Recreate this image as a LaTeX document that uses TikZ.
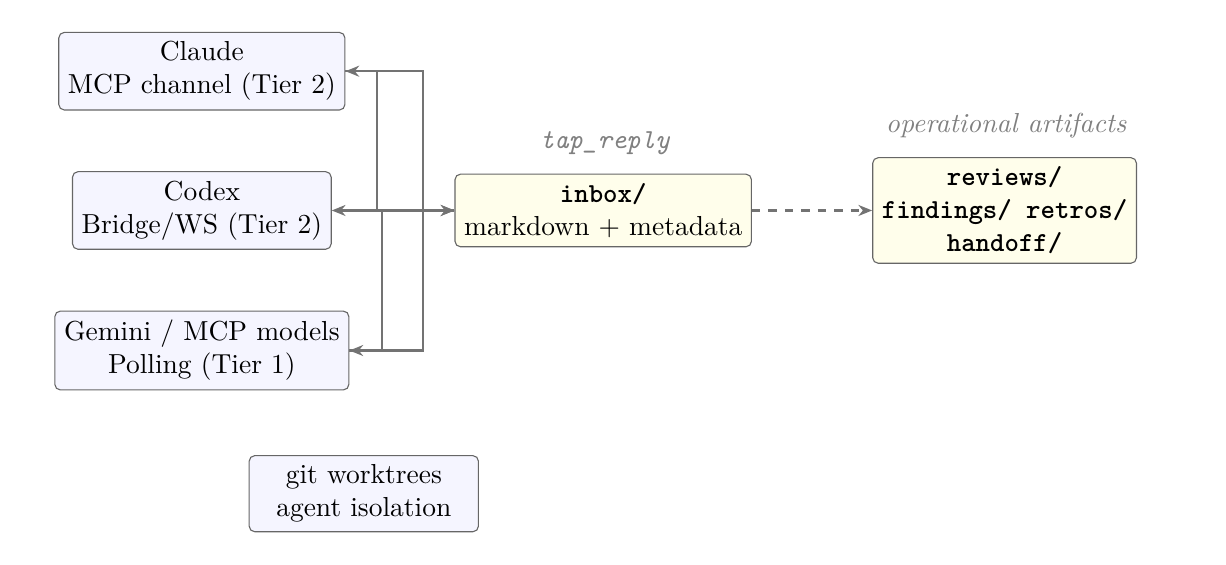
\documentclass[tikz,border=0pt]{standalone}
\usetikzlibrary{arrows.meta}
\begin{document}
\begin{tikzpicture}[
            agent/.style={draw=black!60, fill=blue!4, rounded corners=2pt, align=center},
            store/.style={draw=black!60, fill=yellow!8, rounded corners=2pt, align=center},
            link/.style={-{Stealth[length=5pt,width=4pt]}, black!55, thick},
            note/.style={black!50, font=\itshape}
        ]
            \useasboundingbox (0,0) rectangle (15.67,-7.21);
            \node[agent] (claude) at (2.58,-0.91) {Claude\\MCP channel (Tier 2)};
            \node[agent] (codex) at (2.58,-2.69) {Codex\\Bridge/WS (Tier 2)};
            \node[agent] (gemini) at (2.58,-4.48) {Gemini / MCP models\\Polling (Tier 1)};
            \node[agent, minimum width=2.93cm] (git) at (4.65,-6.31) {git worktrees\\agent isolation};
            \node[store] (inbox) at (7.71,-2.69) {\texttt{\bfseries inbox/}\\markdown + metadata};
            \node[store] (arts) at (12.84,-2.69) {\texttt{\bfseries reviews/}\\\texttt{\bfseries findings/ retros/}\\\texttt{\bfseries handoff/}};
            \node[note] (tap) at (7.73,-1.83) {\texttt{\itshape tap\_reply}};
            \node[note] (ops) at (12.86,-1.61) {operational artifacts};
            \coordinate (j1) at (4.82,-2.69);
            \coordinate (j2) at (4.88,-2.69);
            \coordinate (j3) at (5.41,-2.69);
            \draw[link] (inbox.west) -- (j1) |- (claude.east);
            \draw[link] (inbox.west) -- (codex.east);
            \draw[link] (inbox.west) -- (j2) |- (gemini.east);
            \draw[link] (claude.east) -| (j3) -- (inbox.west);
            \draw[link] (gemini.east) -| (j3) -- (inbox.west);
            \draw[link, dashed] (inbox.east) -- (arts.west);
        \end{tikzpicture}
\end{document}
